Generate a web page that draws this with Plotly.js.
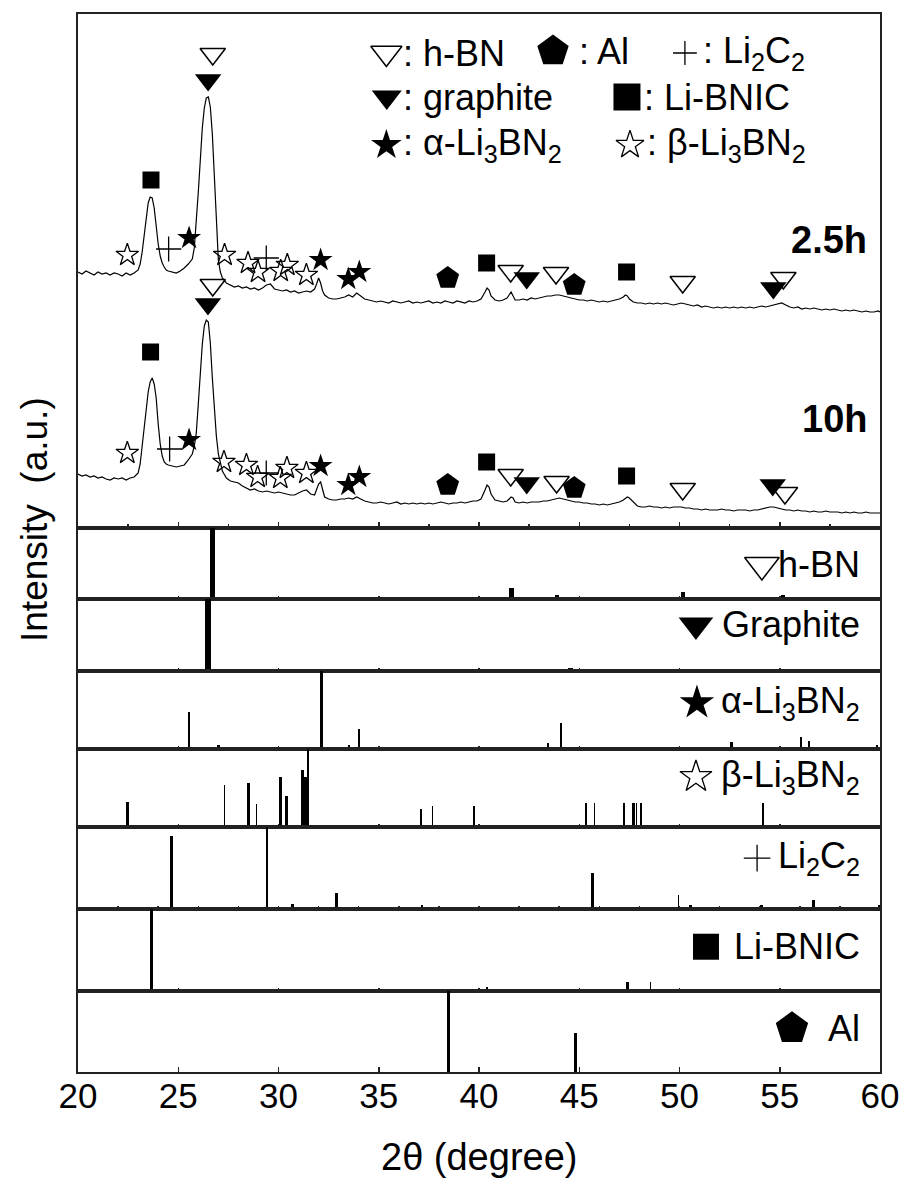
<!DOCTYPE html>
<html><head><meta charset="utf-8">
<script src="https://cdn.plot.ly/plotly-3.0.1.min.js"></script>
<style>html,body{margin:0;padding:0;background:#fff}#chart{width:901px;height:1183px}</style>
</head><body><div id="chart"></div>
<script>
// ---------- measured XRD patterns (2θ grid shared by both scans) ----------
const twoTheta = [
 20.0,20.2,20.4,20.6,20.8,21.0,21.2,21.4,21.6,21.8,22.0,22.2,22.4,22.6,22.8,23.0,
 23.1,23.2,23.3,23.4,23.5,23.6,23.7,23.8,23.9,24.0,24.1,24.2,24.3,24.4,24.5,
 24.7,24.9,25.1,25.3,25.5,25.7,
 25.8,25.9,26.0,26.1,26.2,26.3,26.4,26.5,26.6,26.7,26.8,26.9,27.0,27.1,27.2,
 27.4,27.6,27.8,28.0,28.2,28.4,28.6,28.8,29.0,29.2,29.4,29.6,29.8,30.0,30.2,30.4,30.6,30.8,31.0,31.2,31.4,31.6,
 31.8,31.9,32.0,32.1,32.2,32.3,
 32.5,32.7,32.9,33.1,33.3,33.5,33.7,33.9,34.1,34.3,34.5,34.7,34.9,35.1,35.3,35.5,35.7,35.9,36.1,36.3,36.5,36.7,36.9,37.1,37.3,37.5,37.7,37.9,38.1,38.3,38.5,38.7,38.9,39.1,39.3,39.5,39.7,39.9,40.1,
 40.3,40.4,40.5,40.6,
 40.8,41.0,41.2,41.4,
 41.5,41.6,41.7,41.8,
 42.0,42.2,42.4,42.6,42.8,43.0,43.2,43.4,43.6,43.8,44.0,44.2,44.4,44.6,44.8,45.0,45.2,45.4,45.6,45.8,46.0,46.2,46.4,46.6,46.8,47.0,
 47.2,47.3,47.4,47.5,
 47.7,47.9,48.1,48.3,48.5,48.7,48.9,49.1,49.3,49.5,49.7,49.9,50.1,50.3,50.5,50.7,50.9,51.1,51.3,51.5,51.7,51.9,52.1,52.3,52.5,52.7,52.9,53.1,53.3,53.5,53.7,53.9,54.1,54.3,54.5,54.7,54.9,55.1,55.3,55.5,55.7,55.9,56.1,56.3,56.5,56.7,56.9,57.1,57.3,57.5,57.7,57.9,58.1,58.3,58.5,58.7,58.9,59.1,59.3,59.5,59.7,59.9,60.0
];
const int2p5h = [
 256,254,257,255,253,256,254,255,253,255,254,252,255,253,255,258,
 264,276,294,310,325,331,330,320,300,284,272,265,261,258,257,
 256,255,257,260,264,269,
 280,304,336,368,400,420,430,431,421,394,348,300,268,256,250,
 245,243,241,242,240,241,239,240,238,240,243,244,239,238,237,238,236,237,235,236,237,236,
 239,244,250,245,237,233,
 230,229,229,230,231,233,231,235,232,229,228,227,226,227,226,225,227,226,225,226,227,225,226,225,226,227,225,226,225,227,226,225,227,226,225,227,226,227,229,
 236,240,238,232,
 228,227,228,230,
 233,236,232,228,
 228,229,228,230,229,230,231,232,232,233,233,232,231,230,229,228,228,227,228,227,226,227,226,227,228,229,
 231,233,232,229,
 226,225,225,224,225,224,225,224,225,224,223,224,225,224,223,222,223,221,222,221,220,221,220,221,220,221,220,221,220,221,220,221,222,221,222,223,224,225,223,221,220,221,219,220,219,220,219,218,219,218,219,218,217,218,217,218,217,216,217,216,216,217,216
];
const int10h = [
 54,52,53,51,52,50,51,49,48,50,49,50,48,50,51,55,
 64,82,100,118,136,146,150,144,130,104,84,72,66,64,63,
 62,61,62,63,68,74,
 82,95,124,160,184,202,208,206,185,150,118,92,74,64,57,
 50,47,46,45,42,40,38,39,37,36,37,36,35,36,35,34,33,33,35,37,38,34,
 33,38,44,46,38,31,
 29,28,28,29,29,30,29,31,29,27,26,25,25,26,25,24,25,26,24,25,24,25,24,25,24,25,24,25,26,25,24,25,25,26,25,26,27,27,29,
 38,43,41,34,
 28,27,26,27,
 29,31,30,26,
 25,26,25,26,26,26,27,27,28,29,30,29,28,27,26,26,25,25,24,24,23,24,23,24,25,26,
 28,30,31,30,
 26,22,21,21,22,21,21,20,21,20,21,21,21,20,20,19,19,18,19,18,18,18,19,18,18,17,18,18,18,17,18,18,19,20,21,21,20,19,18,18,17,18,17,17,16,17,16,16,17,16,16,16,15,16,15,16,15,15,16,15,15,15,15
];

// ---------- phase marks placed on the two patterns ----------
const hbnMarkX = [26.72, 41.58, 43.84, 50.16, 55.18, 26.72, 41.58, 43.87, 50.16, 55.26];
const hbnMarkY = [474, 257, 255, 246, 250, 243, 53, 46, 39, 35];
const grMarkX  = [26.49, 42.38, 54.68, 26.48, 42.38, 54.65];
const grMarkY  = [448, 250, 240, 224, 45, 43];
const alphaMarkX = [25.54, 32.1, 33.48, 34.03, 25.54, 32.1, 33.48, 34.03];
const alphaMarkY = [290, 268, 249, 256, 88, 62, 43, 51];
const betaMarkX = [22.46, 27.31, 28.48, 28.98, 30.11, 30.44, 31.39, 22.46, 27.28, 28.4, 28.96, 30.09, 30.42, 31.39];
const betaMarkY = [273, 273, 265, 256, 257, 263, 253, 75, 66, 63, 51, 50, 60, 55];
const licMarkX = [24.52, 29.39, 24.57, 29.39];
const licMarkY = [279, 270, 79, 55];
const bnicMarkX = [23.64, 40.38, 47.36, 23.62, 40.38, 47.36];
const bnicMarkY = [348, 265, 256, 176, 66, 52];
const alMarkX = [38.44, 44.75, 38.44, 44.75];
const alMarkY = [250, 243, 43, 40];

// ---------- reference stick patterns (position °, relative intensity %) ----------
const hbnPos = [26.73, 41.62, 43.88, 50.17, 55.18, 59.62];
const hbnInt = [100, 15, 6, 10, 6, 3];
const grPos = [26.48, 42.4, 44.55, 50.7, 54.7, 59.9];
const grInt = [100, 3, 4, 2, 2, 3];
const alphaPos = [25.54, 27.03, 32.15, 33.52, 34.03, 43.44, 44.1, 52.6, 56.05, 56.47, 59.83];
const alphaInt = [47, 4, 100, 5, 25, 7, 33, 8, 15, 10, 4];
const betaPos = [22.48, 27.30, 28.50, 28.91, 30.11, 30.41, 31.21, 31.37, 31.47, 37.11, 37.69, 39.75, 45.34, 45.75, 47.23, 47.70, 47.85, 48.08, 54.18];
const betaInt = [32, 53, 56, 29, 64, 39, 73, 64, 100, 23, 27, 27, 30, 30, 30, 30, 30, 30, 30];
const licPos = [24.64, 29.43, 30.71, 32.90, 37.16, 45.65, 49.94, 50.56, 54.1, 56.68, 59.95];
const licInt = [89, 100, 6, 20, 5, 44, 17, 5, 5, 11, 5];
const bnicPos = [23.67, 40.41, 47.41, 48.56];
const bnicInt = [100, 5, 11, 11];
const alPos = [38.47, 44.79];
const alInt = [100, 48];

// stick line thickness in pixels (style, kept apart from the data)
const hbnW = [5, 5, 4, 4, 4, 4];
const grW = [6, 4, 5, 4, 4, 4];
const alphaW = [1.5, 3, 3, 2, 2, 1.5, 1.5, 2.5, 2.5, 1.5, 2];
const betaW = [3, 1.5, 3, 1.5, 3, 3, 3, 4, 1.5, 1.5, 1.5, 1.5, 1.5, 1.5, 1.5, 3, 1.5, 2, 2];
const licW = [3, 1.5, 3, 3, 2.5, 3, 1.5, 2.5, 2.5, 3.5, 3];
const bnicW = [3, 1.5, 3, 1.5];
const alW = [3, 3];

const xTickVals = [20, 25, 30, 35, 40, 45, 50, 55, 60];

// ---------- build ----------
const FONT = '"Liberation Sans", Arial, sans-serif';
const PX_PER_DEG = 802 / 40;
const traces = [];

traces.push({type:'scatter', mode:'lines', x: twoTheta, y: int2p5h, line:{color:'#000', width:1.2}, xaxis:'x', yaxis:'y', hoverinfo:'skip'});
traces.push({type:'scatter', mode:'lines', x: twoTheta, y: int10h, line:{color:'#000', width:1.2}, xaxis:'x', yaxis:'y', hoverinfo:'skip'});

const sym = {
  hbn:   {symbol:'triangle-down-open', color:'#000', line:{color:'#000', width:1.5}},
  gr:    {symbol:'triangle-down', color:'#000', line:{width:0}},
  alpha: {symbol:'star', color:'#000', line:{width:0}},
  beta:  {symbol:'star-open', color:'#000', line:{color:'#000', width:1.3}},
  lic:   {symbol:'cross-thin-open', color:'#000', line:{color:'#000', width:1.3}},
  bnic:  {symbol:'square', color:'#000', line:{width:0}},
  al:    {symbol:'pentagon', color:'#000', line:{width:0}}
};
function mk(kind, xs, ys, size, xa, ya) {
  const s = sym[kind];
  traces.push({type:'scatter', mode:'markers', x: xs, y: ys, xaxis: xa, yaxis: ya, hoverinfo:'skip',
    marker: {size: size, symbol: s.symbol, color: s.color, line: s.line}});
}
mk('hbn', hbnMarkX, hbnMarkY, 22, 'x', 'y');
mk('gr', grMarkX, grMarkY, 23, 'x', 'y');
mk('alpha', alphaMarkX, alphaMarkY, 18, 'x', 'y');
mk('beta', betaMarkX, betaMarkY, 17, 'x', 'y');
mk('lic', licMarkX, licMarkY, 18, 'x', 'y');
mk('bnic', bnicMarkX, bnicMarkY, 17, 'x', 'y');
mk('al', alMarkX, alMarkY, 24, 'x', 'y');

// legend in the top panel (deg / intensity positions)
mk('hbn', [35.38], [475], 27, 'x', 'y');
mk('gr', [35.40], [431], 26, 'x', 'y');
mk('alpha', [35.38], [383], 23, 'x', 'y');
mk('al', [43.69], [477], 33, 'x', 'y');
mk('bnic', [47.38], [431], 27, 'x', 'y');
mk('beta', [47.53], [383], 21, 'x', 'y');
mk('lic', [50.27], [475], 17, 'x', 'y');

const panels = [
  {pos: hbnPos, inten: hbnInt, w: hbnW, kind:'hbn', label:'h-BN', symX:54.11, symY:48, symS:30, labY:48},
  {pos: grPos, inten: grInt, w: grW, kind:'gr', label:'Graphite', symX:50.82, symY:64, symS:30, labY:64},
  {pos: alphaPos, inten: alphaInt, w: alphaW, kind:'alpha', label:'α-Li<sub>3</sub>BN<sub>2</sub>', symX:50.87, symY:59, symS:26, labY:59},
  {pos: betaPos, inten: betaInt, w: betaW, kind:'beta', label:'β-Li<sub>3</sub>BN<sub>2</sub>', symX:50.82, symY:64, symS:24, labY:64},
  {pos: licPos, inten: licInt, w: licW, kind:'lic', label:'Li<sub>2</sub>C<sub>2</sub>', symX:53.87, symY:62, symS:19, labY:62},
  {pos: bnicPos, inten: bnicInt, w: bnicW, kind:'bnic', label:'Li-BNIC', symX:51.32, symY:54, symS:26, labY:54},
  {pos: alPos, inten: alInt, w: alW, kind:'al', label:'Al', symX:55.61, symY:54, symS:34, labY:54}
];

// panel boundaries in pixel rows (top of plot = 14, bottom = 1072)
const bounds = [14, 528, 599, 671, 748.5, 827, 909, 991, 1072];
const H = 1072 - 14;
const dom = i => [(1072 - bounds[i+1]) / H, (1072 - bounds[i]) / H];

const layout = {
  width: 901, height: 1183,
  margin: {l:78, r:21, t:14, b:111, pad:0},
  paper_bgcolor:'#fff', plot_bgcolor:'#fff',
  showlegend: false, barmode:'overlay', bargap: 0,
  font: {family: FONT, color:'#000', size: 34},
  annotations: [],
  xaxis: {domain:[0,1], anchor:'y', range:[20,60], showgrid:false, zeroline:false,
    showline:true, mirror:true, linecolor:'#222', linewidth:2,
    ticks:'inside', tickvals: xTickVals, ticklen:6, tickwidth:1.5, tickcolor:'#222', showticklabels:false,
    minor:{tickvals:[22.5,27.5,32.5,37.5,42.5,47.5,52.5,57.5], ticks:'inside', ticklen:4, tickwidth:1.5, tickcolor:'#222'}},
  yaxis: {domain: dom(0), anchor:'x', range:[0,514], showgrid:false, zeroline:false,
    showline:true, mirror:true, linecolor:'#222', linewidth:2, ticks:'', showticklabels:false}
};

panels.forEach((p, k) => {
  const n = k + 2;
  const xa = 'x' + n, ya = 'y' + n;
  traces.push({type:'bar', x: p.pos, y: p.inten, width: p.w.map(v => v / PX_PER_DEG),
    marker:{color:'#000', line:{width:0}}, xaxis: xa, yaxis: ya, hoverinfo:'skip'});
  mk(p.kind, [p.symX], [p.symY], p.symS, xa, ya);
  const isLast = (k === panels.length - 1);
  const isLic = (p.kind === 'lic');
  layout['xaxis' + n] = {domain:[0,1], anchor: ya, matches:'x', range:[20,60], showgrid:false, zeroline:false,
    showline:true, mirror:true, linecolor:'#222', linewidth:2,
    ticks:'inside', tickvals: isLic ? [22,24,26,28,30,32,34,36,38,40,42,44,46,48,50,52,54,56,58] : xTickVals,
    ticklen: isLast ? 5 : 3, tickwidth:1.5, tickcolor:'#222',
    showticklabels: isLast,
    tickfont:{family: FONT, size:35, color:'#000'}, ticklabelstandoff: -8};
  layout['yaxis' + n] = {domain: dom(k + 1), anchor: xa, range:[0,100], showgrid:false, zeroline:false,
    showline:true, mirror:true, linecolor:'#222', linewidth:2, ticks:'', showticklabels:false, fixedrange:true};
  layout.annotations.push({xref: xa, yref: ya, x: 59.1, y: p.labY, xanchor:'right', yanchor:'middle',
    text: p.label, showarrow:false, font:{family: FONT, size:36, color:'#000'}});
});

// legend texts in top panel
const legendTexts = [
  [36.11, 475, ': h-BN'], [44.89, 477, ': Al'], [51.05, 475, ': Li<sub>2</sub>C<sub>2</sub>'],
  [36.11, 431, ': graphite'], [48.13, 431, ': Li-BNIC'],
  [36.11, 383, ': α-Li<sub>3</sub>BN<sub>2</sub>'], [48.28, 383, ': β-Li<sub>3</sub>BN<sub>2</sub>']
];
legendTexts.forEach(t => layout.annotations.push({xref:'x', yref:'y', x:t[0], y:t[1], xanchor:'left', yanchor:'middle',
  text:t[2], showarrow:false, font:{family: FONT, size:36, color:'#000'}}));

layout.annotations.push({xref:'x', yref:'y', x:59.45, y:288, xanchor:'right', yanchor:'middle', text:'<b>2.5h</b>', showarrow:false, font:{family: FONT, size:38, color:'#000'}});
layout.annotations.push({xref:'x', yref:'y', x:59.45, y:109, xanchor:'right', yanchor:'middle', text:'<b>10h</b>', showarrow:false, font:{family: FONT, size:38, color:'#000'}});

// axis titles
layout.annotations.push({xref:'paper', yref:'paper', x:0.5, y:(1072-1157)/H, xanchor:'center', yanchor:'middle',
  text:'2θ (degree)', showarrow:false, font:{family: FONT, size:38, color:'#000'}});
layout.annotations.push({xref:'paper', yref:'paper', x:(34-78)/802, y:(1072-520)/H, xanchor:'center', yanchor:'middle',
  textangle:-90, text:'Intensity  (a.u.)', showarrow:false, font:{family: FONT, size:37, color:'#000'}});

Plotly.newPlot('chart', traces, layout, {staticPlot:true, displayModeBar:false});
</script>
</body></html>
